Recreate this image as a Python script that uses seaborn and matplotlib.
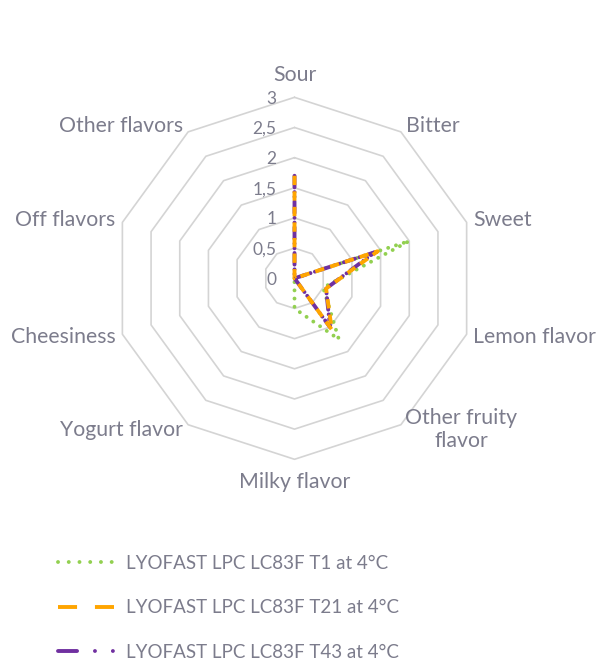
import numpy as np
import matplotlib
matplotlib.use("Agg")
import matplotlib.pyplot as plt
import matplotlib.transforms as mtransforms
from matplotlib.lines import Line2D
import seaborn as sns

# ---- data ----
categories = ["Sour", "Bitter", "Sweet", "Lemon flavor", "Other fruity\nflavor",
              "Milky flavor", "Yogurt flavor", "Cheesiness", "Off flavors", "Other flavors"]
t1_values = [0, 0, 2.0, 0.5, 1.25, 0.5, 0, 0, 0, 0]
t21_values = [1.7, 0, 1.45, 0.55, 1.05, 0, 0, 0, 0, 0]
t43_values = [1.7, 0, 1.4, 0.55, 1.0, 0, 0, 0, 0, 0]
series_names = ["LYOFAST LPC LC83F T1 at 4°C",
                "LYOFAST LPC LC83F T21 at 4°C",
                "LYOFAST LPC LC83F T43 at 4°C"]
levels = [0.5, 1, 1.5, 2, 2.5, 3]
level_labels = ["0", "0,5", "1", "1,5", "2", "2,5", "3"]

TEXT = "#7c7c8c"
GRID = "#d4d4d4"
colors = ["#92d050", "#ffa500", "#7030a0"]
LW = 2.8

sns.set_theme(style="white")
plt.rcParams["font.family"] = ["Lato", "DejaVu Sans"]

fig = plt.figure(figsize=(6, 6.62), dpi=100)
ax = fig.add_axes([0.1892, 0.3062, 0.6033, 0.5468], projection="polar")
ax.set_theta_offset(np.pi / 2)
ax.set_theta_direction(-1)
ax.set_ylim(0, 3)
ax.grid(False)
ax.spines["polar"].set_visible(False)
ax.set_xticks([])
ax.set_yticks([])
ax.patch.set_alpha(0)

n = len(categories)
theta = np.arange(n) * 2 * np.pi / n
theta_closed = np.append(theta, theta[0])

# decagon grid
for lvl in levels:
    ax.plot(theta_closed, [lvl] * (n + 1), color=GRID, lw=1.2, zorder=1, clip_on=False)

# chart line styles (dense, as drawn in the plot area)
chart_styles = [
    dict(linestyle=(0, (0.01, 2.1)), dash_capstyle="round", zorder=3),
    dict(linestyle=(0, (2.4, 1.6)), dash_capstyle="butt", zorder=5),
    dict(linestyle=(0, (3.0, 1.2, 0.01, 1.2, 0.01, 1.2)), dash_capstyle="round", zorder=4),
]
for vals, name, col, st in zip([t1_values, t21_values, t43_values], series_names, colors, chart_styles):
    r = np.append(vals, vals[0])
    sns.lineplot(x=theta_closed, y=r, sort=False, ax=ax, lw=LW, color=col,
                 clip_on=False, **st)

# value labels
for lvl, lab in zip([0] + levels, level_labels):
    tr = mtransforms.offset_copy(ax.transData, fig=fig, x=-18, y=-1.5, units="dots")
    ax.text(0, lvl, lab, transform=tr, ha="right", va="center", fontsize=12.5, color=TEXT)

# category labels
label_offsets = [(0, 22, "center"), (5, 6, "left"), (6.5, 2.5, "left"), (6.5, -2.5, "left"),
                 (4, -4.5, "left"), (0, -22.5, "center"), (-5, -5.5, "right"),
                 (-7, -2.5, "right"), (-7, 2.5, "right"), (-5, 6, "right")]
for ang, lab, (dx, dy, ha) in zip(theta, categories, label_offsets):
    tr = mtransforms.offset_copy(ax.transData, fig=fig, x=dx, y=dy, units="dots")
    ax.text(ang, 3, lab, transform=tr, ha=ha, va="center", multialignment="center",
            fontsize=15.3, color=TEXT, linespacing=1.2)

# legend keys use the wider pattern seen in the reference legend
legend_styles = [
    dict(linestyle=(0, (0.01, 2.75)), dash_capstyle="round"),
    dict(linestyle=(0, (4.9, 4.6)), dash_capstyle="butt"),
    dict(linestyle=(0, (4.9, 4.6, 0.01, 4.6, 0.01, 4.6)), dash_capstyle="round"),
]
handles = [Line2D([], [], color=c, lw=LW, **st) for c, st in zip(colors, legend_styles)]
fig.legend(handles, series_names, loc="upper left", bbox_to_anchor=(0.0967, 0.162),
           frameon=False, borderpad=0, borderaxespad=0, fontsize=13.5,
           handlelength=3.0, handletextpad=0.6, labelspacing=1.47, labelcolor=TEXT)

fig.savefig("out.png", dpi=100, facecolor="white")
